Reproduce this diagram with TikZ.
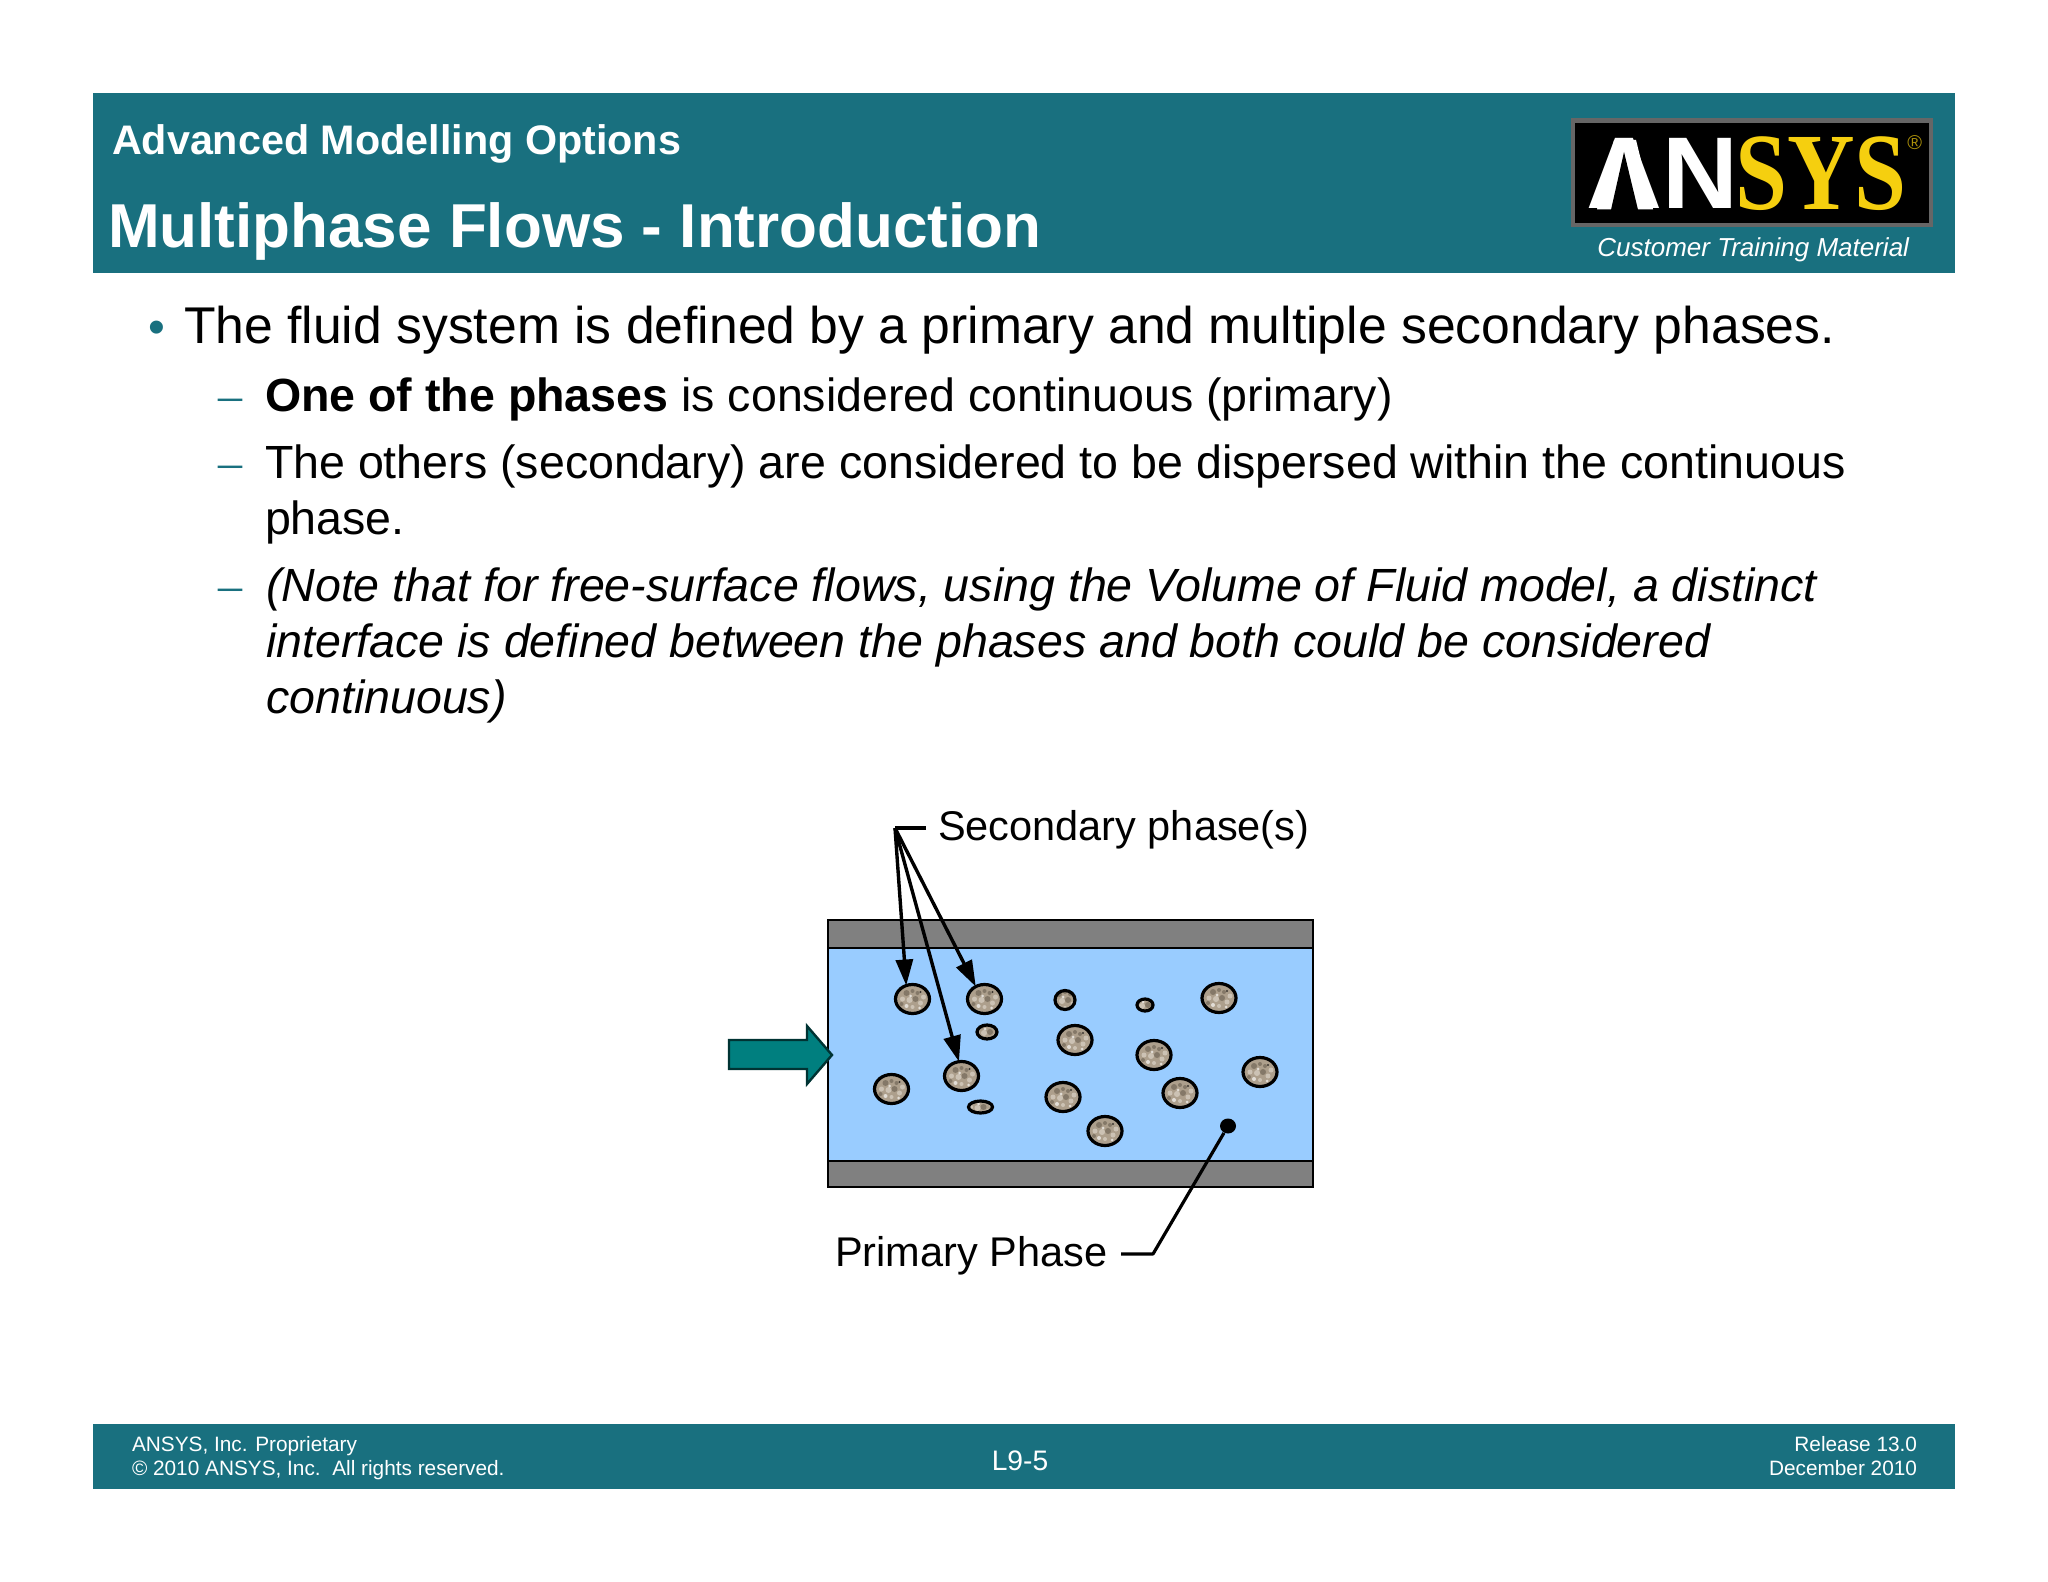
\documentclass[tikz,border=0pt]{standalone}
\usepackage{fontspec}
\setmainfont{Liberation Sans}
\newfontfamily\serifdash{Liberation Serif}
\usetikzlibrary{shapes.geometric,arrows.meta}
\newcommand{\fsz}[1]{\fontsize{#1}{#1}\selectfont}
\definecolor{bandteal}{HTML}{19707F}
\definecolor{arrowteal}{HTML}{007F7F}
\definecolor{wallgrey}{HTML}{808080}
\definecolor{fluid}{HTML}{99CCFF}
\definecolor{grain}{HTML}{AD9F8C}
\definecolor{graindark}{HTML}{6F6455}
\definecolor{grainlight}{HTML}{DDD6CA}
\definecolor{ansysyellow}{HTML}{F5CF0F}
\tikzset{
  x=0.5pt,y=-0.5pt,
  band/.style={fill=bandteal,draw=none},
  txt/.style={anchor=base west,inner sep=0pt,outer sep=0pt,text=black},
  headtxt/.style={anchor=base west,inner sep=0pt,outer sep=0pt,text=white,font=\bfseries},
  foot/.style={anchor=base west,inner sep=0pt,outer sep=0pt,text=white,font=\fsz{10.4}},
  footr/.style={anchor=base east,inner sep=0pt,outer sep=0pt,text=white,font=\fsz{10.4}},
  mark1/.style={anchor=base west,inner sep=0pt,outer sep=0pt,text=bandteal},
  blob/.style n args={2}{ellipse,draw=black,line width=1.6pt,fill=grain,inner sep=0pt,outer sep=0pt,
    minimum width=#1*1pt,minimum height=#2*1pt,
    path picture={
      \foreach \dx/\dy/\rr/\cc in {-6/-6/3/graindark,0/-8/2/graindark,5/-6/2/graindark,8/-7/1.2/black,11/-2/2.5/grainlight,-10/0/2.5/grainlight,-3/1/3/grainlight,3/0/3/graindark,8/4/2.5/grainlight,-6/7/2/white,0/8/2/grainlight,7/9/1.5/white,-11/5/2/graindark,-2/-3/1.5/white}
        \fill[\cc,opacity=.65] (path picture bounding box.center) ++(\dx,\dy) circle[radius=\rr];
    }},
  ptr/.style={line width=1.7pt,-{Triangle[length=13pt,width=8.5pt]}},
  leader/.style={line width=1.6pt},
  wall/.style={fill=wallgrey,draw=black,line width=1.2pt},
}
\begin{document}
\begin{tikzpicture}
\useasboundingbox (0,0) rectangle (2048,1582);
\fill[white] (0,0) rectangle (2048,1582);
% bands
\fill[band] (93,93) rectangle (1955,273);
\fill[band] (93,1424) rectangle (1955,1489);
\node[headtxt,font=\bfseries\fsz{20.65}] (sub) at (112,155) {Advanced Modelling Options};
\node[headtxt,font=\bfseries\fsz{31}] (ttl) at (108,248) {Multiphase Flows - Introduction};
% logo
\fill[gray!80!black] (1571,118) rectangle (1933,227);
\fill[black] (1575,123) rectangle (1929,223);
\node[anchor=base west,inner sep=0,text=white,font=\bfseries\fsz{51},xscale=1.03] (logoa) at (1586,209) {AN};
\fill[white] (1614,140) -- (1636,140) -- (1653,209.3) -- (1597,209.3) -- cycle;
\fill[black] (1624,152) -- (1638,209.8) -- (1611,209.8) -- cycle;
\node[anchor=base west,inner sep=0,text=ansysyellow,font=\serifdash\bfseries\fsz{55},xscale=.85] (logob) at (1735,210) {SYS};
\node[anchor=base west,inner sep=0,text=ansysyellow!70!black,font=\fsz{10}] (logor) at (1907,150) {®};
\node[anchor=base west,inner sep=0,text=white,font=\itshape\fsz{13}] (ctm) at (1597,257) {Customer Training Material};
% body
\node[mark1,font=\fsz{24}] (b1) at (148,344) {•};
\node[txt,font=\fsz{25.83}] (l1) at (184,344) {The fluid system is defined by a primary and multiple secondary phases.};
\node[mark1,font=\serifdash\fsz{24}] (d1) at (218,412) {–};
\node[txt,font=\fsz{23.27}] (l2) at (265,412) {\textbf{One of the phases} is considered continuous (primary)};
\node[mark1,font=\serifdash\fsz{24}] (d2) at (218,479) {–};
\node[txt,font=\fsz{23.27}] (l3) at (265,479) {The others (secondary) are considered to be dispersed within the continuous};
\node[txt,font=\fsz{23.27}] (l4) at (265,535) {phase.};
\node[mark1,font=\serifdash\fsz{24}] (d3) at (218,602) {–};
\node[txt,font=\itshape\fsz{23.28}] (l5) at (266,602) {(Note that for free-surface flows, using the Volume of Fluid model, a distinct};
\node[txt,font=\itshape\fsz{23.28}] (l6) at (266,657) {interface is defined between the phases and both could be considered};
\node[txt,font=\itshape\fsz{23.28}] (l7) at (266,713) {continuous)};
% pipe
\draw[wall] (828,920) rectangle (1313,948);
\draw[wall] (828,1161) rectangle (1313,1187);
\fill[fluid] (828,948) rectangle (1313,1161);
\draw[line width=1.2pt] (828,948) rectangle (1313,1161);
% flow arrow
\draw[fill=arrowteal,draw=black!60!arrowteal,line width=1.2pt] (729,1040) -- (807,1040) -- (807,1026) -- (832,1055) -- (807,1084) -- (807,1069) -- (729,1069) -- cycle;
% particles
\node[blob={17}{14.5}] (c1) at (912.5,999) {};
\node[blob={17}{14.5}] (c2) at (984.5,999) {};
\node[blob={10}{9.5}] (c3) at (1065,1000) {};
\node[blob={8}{6}] (c4) at (1145,1005) {};
\node[blob={17}{14.5}] (c5) at (1219,998) {};
\node[blob={10}{7}] (c6) at (987,1032) {};
\node[blob={17}{14.5}] (c7) at (1075,1040) {};
\node[blob={17}{14.5}] (c8) at (1154,1055) {};
\node[blob={17}{14.5}] (c9) at (1260,1072) {};
\node[blob={17}{14.5}] (c10) at (961.5,1076) {};
\node[blob={17}{14.5}] (c11) at (891.5,1089) {};
\node[blob={17}{14.5}] (c12) at (1063,1097) {};
\node[blob={17}{14.5}] (c13) at (1180,1093) {};
\node[blob={12}{6}] (c14) at (980.5,1107) {};
\node[blob={17}{14.5}] (c15) at (1105,1131) {};
% labels and leaders
\node[txt,font=\fsz{20.75}] (sec) at (938,840) {Secondary phase(s)};
\coordinate (hub) at (895,828);
\draw[leader] ([xshift=-6pt]sec.west |- hub) -- (hub);
\draw[ptr] (hub) -- (c1.115);
\draw[ptr] (hub) -- (c2.125);
\draw[ptr] (hub) -- (c10.100);
\node[ellipse,fill=black,inner sep=0pt,minimum width=8pt,minimum height=7.5pt] (dot) at (1228,1126) {};
\node[txt,font=\fsz{20.75}] (pri) at (835,1266) {Primary Phase};
\coordinate (kink) at (1153,1254);
\draw[leader,line join=round] (dot) -- (kink) -- ([xshift=7pt]pri.east |- kink);
% footer
\node[foot] (f1) at (132,1451) {ANSYS, Inc. Proprietary};
\node[foot] (f2) at (132,1475.5) {© 2010 ANSYS, Inc.\ \ All rights reserved.};
\node[anchor=base,inner sep=0,text=white,font=\fsz{14.1}] (pg) at (1020,1470) {L9-5};
\node[footr] (f3) at (1917,1451) {Release 13.0};
\node[footr] (f4) at (1917,1475.5) {December 2010};
\end{tikzpicture}
\end{document}
